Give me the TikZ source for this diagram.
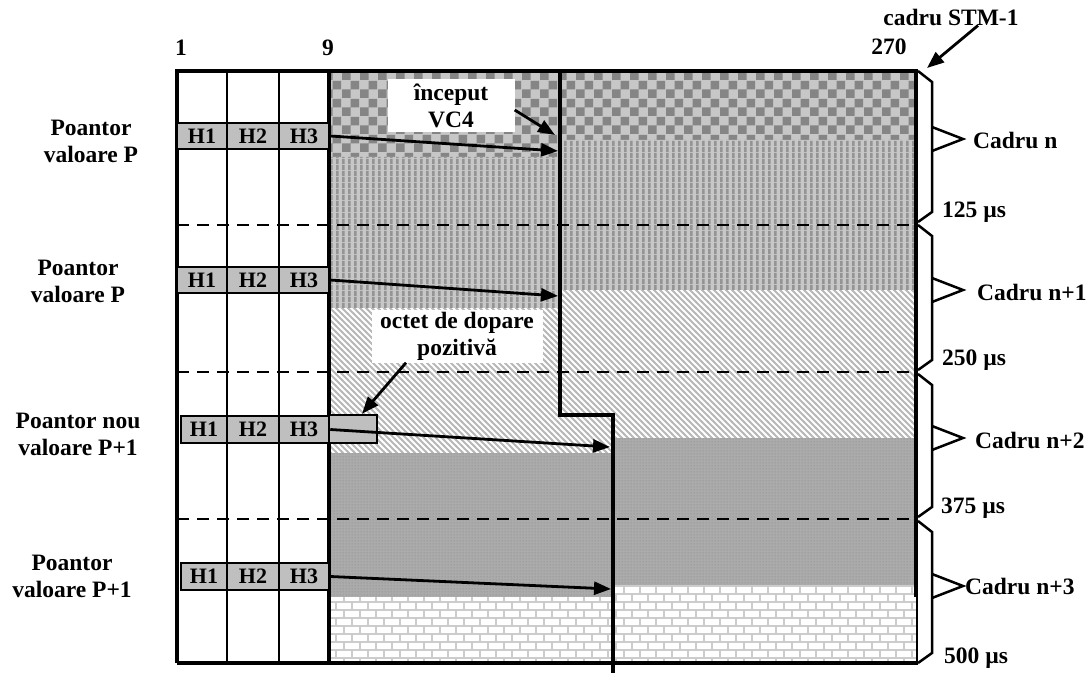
\documentclass[tikz,border=0pt]{standalone}
\usepackage{fontspec}
\setmainfont{Liberation Serif}
\usetikzlibrary{
    arrows.meta,
    patterns
}
% motive de umplere
\pgfdeclarepatternformonly{chk}{\pgfpointorigin}{\pgfpoint{18pt}{18pt}}{\pgfpoint{18pt}{18pt}}{
    \pgfpathrectangle{\pgfpointorigin}{\pgfpoint{9pt}{9pt}}
    \pgfpathrectangle{\pgfpoint{9pt}{9pt}}{\pgfpoint{9pt}{9pt}}
    \pgfusepath{fill}
}
\pgfdeclarepatternformonly{vstripes}{\pgfpointorigin}{\pgfpoint{6pt}{6pt}}{\pgfpoint{6pt}{6pt}}{
    \pgfpathrectangle{\pgfpointorigin}{\pgfpoint{3pt}{6pt}}
    \pgfusepath{fill}
}
\pgfdeclarepatternformonly{dstripes}{\pgfpoint{-1pt}{-1pt}}{\pgfpoint{7pt}{7pt}}{\pgfpoint{6pt}{6pt}}{
    \pgfsetlinewidth{1.8pt}
    \pgfpathmoveto{\pgfpoint{-1pt}{7pt}}
    \pgfpathlineto{\pgfpoint{7pt}{-1pt}}
    \pgfusepath{stroke}
}
\pgfdeclarepatternformonly{fdots}{\pgfpointorigin}{\pgfpoint{3pt}{3pt}}{\pgfpoint{3pt}{3pt}}{
    \pgfpathcircle{\pgfpoint{1.5pt}{1.5pt}}{0.7pt}
    \pgfusepath{fill}
}
\pgfdeclarepatternformonly{brk}{\pgfpoint{-1pt}{-1pt}}{\pgfpoint{17pt}{17pt}}{\pgfpoint{16pt}{16pt}}{
    \pgfsetlinewidth{1.6pt}
    \pgfpathmoveto{\pgfpoint{-1pt}{0pt}}\pgfpathlineto{\pgfpoint{17pt}{0pt}}
    \pgfpathmoveto{\pgfpoint{-1pt}{8pt}}\pgfpathlineto{\pgfpoint{17pt}{8pt}}
    \pgfpathmoveto{\pgfpoint{0pt}{0pt}}\pgfpathlineto{\pgfpoint{0pt}{8pt}}
    \pgfpathmoveto{\pgfpoint{8pt}{8pt}}\pgfpathlineto{\pgfpoint{8pt}{16pt}}
    \pgfusepath{stroke}
}
\tikzset{
    >={Triangle[length=17pt,width=13pt]},
    lbl/.style={
        font=\fontsize{23.5}{27}\selectfont\bfseries,
        align=center,
        inner sep=0pt
    },
    hdr/.style={
        draw,
        line width=2.5pt,
        fill=black!25,
        minimum height=26pt,
        inner sep=0pt,
        font=\fontsize{22}{24}\selectfont\bfseries
    },
    wbox/.style={
        lbl,
        fill=white
    },
    reg chk/.style={preaction={fill=black!22}, pattern=chk, pattern color=black!48},
    reg vst/.style={preaction={fill=black!22}, pattern=vstripes, pattern color=black!42},
    reg dst/.style={preaction={fill=white}, pattern=dstripes, pattern color=black!28},
    reg dot/.style={preaction={fill=black!33}, pattern=fdots, pattern color=black!45},
    reg brk/.style={preaction={fill=white}, pattern=brk, pattern color=black!20},
    dashln/.style={line width=2.5pt, dash pattern=on 12pt off 8pt},
    gridln/.style={line width=2.5pt},
    vcline/.style={line width=3.5pt},
    ptr/.style={->, line width=2.8pt},
    brc/.style={line width=2.5pt, line join=miter}
}

\begin{document}
\begin{tikzpicture}[
    x=1pt,
    y=-1pt
]
    \useasboundingbox (0,0) rectangle (1088,674);

    % Zone VC4
    \fill[reg chk] (329,72) -- (916,72) -- (916,140) -- (560,140) -- (560,157) -- (329,157) -- cycle;
    \fill[reg vst] (329,157) -- (560,157) -- (560,140) -- (916,140) -- (916,290) -- (560,290) -- (560,308) -- (329,308) -- cycle;
    \fill[reg dst] (329,308) -- (560,308) -- (560,290) -- (916,290) -- (916,438) -- (613,438) -- (613,453) -- (329,453) -- cycle;
    \fill[reg dot] (329,453) -- (613,453) -- (613,438) -- (916,438) -- (916,585) -- (613,585) -- (613,597) -- (329,597) -- cycle;
    \fill[reg brk] (329,597) -- (613,597) -- (613,585) -- (916,585) -- (916,663) -- (329,663) -- cycle;

    % Limite cadre
    \foreach \y in {225,372,519}
        \draw[dashln] (177,\y) -- (916,\y);

    % Coloane
    \draw[gridln] (227,72) -- (227,663);
    \draw[gridln] (279,72) -- (279,663);
    \draw[line width=3.2pt] (329,72) -- (329,663);
    \draw[line width=4.5pt] (177,663) -- (177,71) -- (918,71);
    \draw[line width=4pt] (177,663) -- (918,663);
    \draw[line width=3.5pt] (916,71) -- (916,597);
    \draw[line width=2pt] (917,597) -- (917,663);

    % Inceput VC4
    \draw[vcline] (560,72) -- (560,415) -- (613,415) -- (613,673);

    % Pointeri
    \node[hdr, minimum width=50pt] (h1a) at (202,136)   {H1};
    \node[hdr, minimum width=52pt] (h2a) at (253,136)   {H2};
    \node[hdr, minimum width=50pt] (h3a) at (304,136)   {H3};
    \node[hdr, minimum width=50pt] (h1b) at (202,280)   {H1};
    \node[hdr, minimum width=52pt] (h2b) at (253,280)   {H2};
    \node[hdr, minimum width=50pt] (h3b) at (304,280)   {H3};
    \node[hdr, minimum width=46pt, minimum height=27pt] (h1c) at (204,429.5) {H1};
    \node[hdr, minimum width=52pt, minimum height=27pt] (h2c) at (253,429.5) {H2};
    \node[hdr, minimum width=50pt, minimum height=27pt] (h3c) at (304,429.5) {H3};
    \node[hdr, minimum width=48pt, minimum height=28pt] (oct) at (353,429)   {};
    \node[hdr, minimum width=46pt, minimum height=27pt] (h1d) at (204,576.5) {H1};
    \node[hdr, minimum width=52pt, minimum height=27pt] (h2d) at (253,576.5) {H2};
    \node[hdr, minimum width=50pt, minimum height=27pt] (h3d) at (304,576.5) {H3};

    \coordinate (t1) at (558,151);
    \coordinate (t2) at (558,296);
    \coordinate (t3) at (610,447);
    \coordinate (t4) at (611,589);
    \coordinate (tvc) at (555,135);
    \coordinate (tstm) at (927,68);

    \draw[ptr] (h3a.east) -- (t1);
    \draw[ptr] (h3b.east) -- (t2);
    \draw[ptr] (h3c.east) -- (t3);
    \draw[ptr] (h3d.east) -- (t4);

    % Etichete
    \node[wbox, minimum width=127pt, minimum height=53pt] (vc4) at (451,106) {început\\VC4};
    \node[wbox, minimum width=171pt, minimum height=53pt] (dop) at (457,336) {octet de dopare\\pozitivă};
    \draw[ptr] ([yshift=-4pt]vc4.east) -- (tvc);
    \draw[ptr] ([xshift=-51pt]dop.south) -- ([xshift=9pt]oct.north);

    \node[lbl] (pa) at (91,141)  {Poantor\\valoare P};
    \node[lbl] (pb) at (78,281)  {Poantor\\valoare P};
    \node[lbl] (pc) at (78,434)  {Poantor nou\\valoare P+1};
    \node[lbl] (pd) at (72,576)  {Poantor\\valoare P+1};

    \node[lbl] (c1)   at (181,48) {1};
    \node[lbl] (c9)   at (328,48) {9};
    \node[lbl] (c270) at (889,47) {270};
    \node[lbl] (stm)  at (951,17) {cadru STM-1};
    \draw[ptr] ([xshift=27pt]stm.south) -- (tstm);

    % Acolade cadre
    \foreach \ya/\yb/\ym in {71/222/139, 225/370/290, 374/517/438, 521/663/586} {
        \draw[brc] (918,\ya) -- (932,\ya+11) -- (932,\yb-10) -- (918,\yb);
        \draw[brc] (932,\ym-12) -- (963,\ym) -- (932,\ym+12);
    }

    \node[lbl, anchor=west] (fn)  at (973,140) {Cadru n};
    \node[lbl, anchor=west] (fn1) at (977,292) {Cadru n+1};
    \node[lbl, anchor=west] (fn2) at (975,440) {Cadru n+2};
    \node[lbl, anchor=west] (fn3) at (965,586) {Cadru n+3};

    \node[lbl, anchor=west] (s1) at (942,212) {125 µs};
    \node[lbl, anchor=west] (s2) at (942,360) {250 µs};
    \node[lbl, anchor=west] (s3) at (941,508) {375 µs};
    \node[lbl, anchor=west] (s4) at (944,658) {500 µs};

\end{tikzpicture}
\end{document}
